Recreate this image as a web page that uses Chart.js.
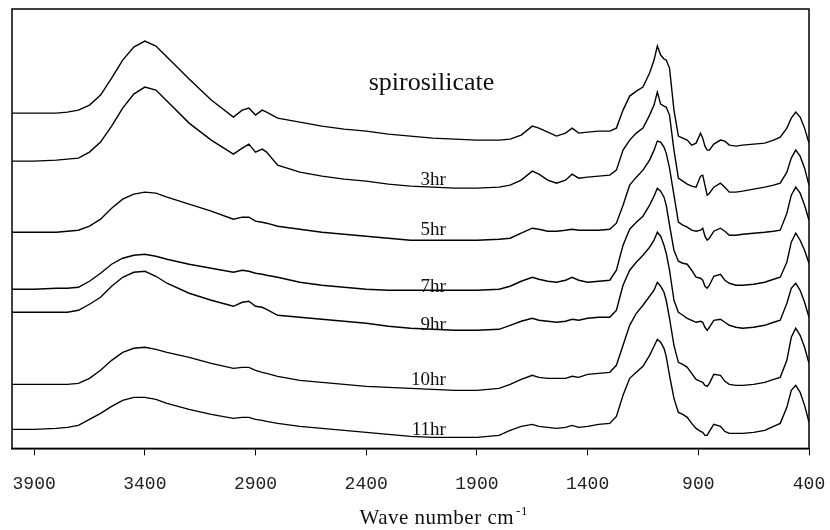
<!DOCTYPE html>
<html>
<head>
<meta charset="utf-8">
<script src="https://cdn.jsdelivr.net/npm/chart.js@4.4.0/dist/chart.umd.min.js"></script>
<style>
  body { margin: 0; background: #fff; }
</style>
</head>
<body>
<canvas id="chart1" width="830" height="530"></canvas>
<script>
const waveNumbers = [
  4000, 3900, 3800, 3750, 3700, 3650, 3600, 3550, 3500, 3450, 3400, 3350, 3300, 3200, 3100, 3000,
  2960, 2930, 2900, 2870, 2850, 2800, 2700, 2600, 2500, 2400, 2300, 2200, 2100, 2000, 1900, 1800,
  1750, 1700, 1650, 1620, 1580, 1540, 1500, 1470, 1440, 1400, 1350, 1300, 1270, 1240, 1210, 1180,
  1150, 1120, 1100, 1085, 1070, 1055, 1045, 1030, 1010, 990, 970, 950, 930, 910, 890, 880,
  870, 860, 850, 830, 800, 780, 760, 730, 700, 650, 600, 560, 530, 500, 480, 460, 440, 420, 400,
];

// stacked (offset) spectra, arbitrary units
const spiroValues = [
  335, 335, 335, 336, 338, 343, 353, 370, 388, 401, 407, 402, 391, 369, 348, 331,
  338, 340, 333, 338, 336, 330, 326, 322, 319, 317, 314, 312, 310, 309, 308, 308,
  309, 313, 322, 320, 316, 312, 315, 320, 315, 316, 317, 317, 320, 338, 352, 357,
  361, 375, 388, 402, 393, 389, 388, 380, 338, 312, 310, 308, 303, 305, 315, 310,
  302, 298, 298, 304, 308, 307, 303, 302, 303, 304, 305, 308, 311, 320, 330, 336, 331, 320, 305,
];
const hr3Values = [
  287, 287, 288, 289, 290, 296, 306, 322, 340, 354, 361, 358, 347, 325, 308, 294,
  300, 304, 296, 299, 296, 283, 276, 272, 269, 267, 264, 262, 261, 260, 260, 261,
  263, 268, 277, 274, 268, 265, 268, 274, 270, 271, 272, 273, 278, 298, 308, 315,
  320, 333, 343, 356, 344, 342, 341, 333, 298, 270, 267, 264, 262, 261, 272, 273,
  263, 253, 255, 261, 265, 261, 256, 256, 257, 259, 261, 263, 265, 276, 290, 298, 292, 280, 263,
];
const hr5Values = [
  216, 216, 216, 217, 218, 222, 229, 240, 249, 254, 256, 255, 251, 244, 237, 229,
  231, 231, 227, 226, 225, 222, 219, 216, 214, 212, 210, 208, 208, 208, 208, 209,
  210, 215, 220, 219, 217, 217, 218, 219, 218, 218, 218, 219, 225, 243, 263, 271,
  278, 288, 298, 307, 306, 301, 295, 280, 253, 226, 223, 221, 218, 217, 218, 220,
  212, 208, 210, 217, 220, 217, 213, 213, 214, 215, 216, 217, 218, 235, 253, 261, 255, 243, 228,
];
const hr7Values = [
  159, 159, 160, 160, 161, 167, 175, 184, 190, 193, 194, 192, 189, 184, 180, 176,
  178, 177, 175, 174, 173, 171, 166, 163, 161, 159, 158, 158, 158, 158, 158, 159,
  162, 167, 171, 169, 167, 166, 168, 171, 168, 166, 167, 168, 178, 203, 219, 226,
  232, 243, 252, 260, 257, 251, 243, 223, 198, 187, 185, 184, 178, 171, 170, 168,
  162, 160, 163, 172, 174, 168, 165, 163, 163, 164, 166, 169, 171, 186, 206, 215, 208, 198, 185,
];
const hr9Values = [
  136, 136, 136, 136, 138, 144, 151, 162, 171, 176, 177, 172, 165, 155, 148, 142,
  146, 147, 142, 141, 139, 133, 131, 129, 127, 125, 122, 120, 119, 118, 118, 119,
  123, 127, 130, 128, 127, 126, 127, 129, 128, 130, 131, 131, 138, 163, 178, 186,
  193, 201, 208, 216, 212, 203, 195, 178, 148, 136, 133, 130, 128, 126, 127, 126,
  121, 118, 121, 128, 129, 126, 123, 121, 120, 121, 123, 126, 128, 145, 160, 165, 158, 146, 131,
];
const hr10Values = [
  64, 64, 64, 64, 65, 70, 78, 88, 96, 100, 101, 99, 96, 91, 85, 80,
  81, 81, 78, 76, 75, 72, 68, 66, 64, 62, 61, 60, 59, 58, 58, 60,
  64, 69, 73, 71, 70, 70, 70, 72, 71, 74, 75, 76, 83, 103, 123, 135,
  143, 152, 158, 166, 162, 156, 148, 130, 103, 86, 84, 81, 75, 69, 67, 66,
  63, 62, 65, 74, 73, 67, 64, 63, 63, 64, 66, 69, 71, 88, 111, 120, 113, 101, 85,
];
const hr11Values = [
  19, 19, 20, 21, 23, 29, 35, 42, 48, 51, 51, 49, 45, 39, 34, 30,
  31, 31, 29, 28, 27, 25, 22, 20, 18, 16, 14, 12, 11, 11, 11, 13,
  18, 22, 24, 22, 21, 20, 21, 23, 21, 22, 24, 25, 32, 53, 70, 76,
  82, 93, 102, 109, 106, 100, 92, 73, 50, 36, 34, 31, 25, 20, 17, 16,
  13, 13, 17, 24, 22, 17, 15, 15, 15, 16, 18, 22, 25, 41, 58, 63, 56, 43, 26,
];

const seriesNames = ["spirosilicate", "3hr", "5hr", "7hr", "9hr", "10hr", "11hr"];
const seriesValues = [spiroValues, hr3Values, hr5Values, hr7Values, hr9Values, hr10Values, hr11Values];
const tickValues = [3900, 3400, 2900, 2400, 1900, 1400, 900, 400];
const axisTitle = "Wave number cm";
const axisTitleSup = "-1";

// where each curve name is written, in data units (x = wave number, y = offset)
const labelAnchors = [
  { x: 2105, y: 358, size: 26, align: "center" },
  { x: 2040, y: 263, size: 19, align: "right" },
  { x: 2040, y: 213, size: 19, align: "right" },
  { x: 2040, y: 156, size: 19, align: "right" },
  { x: 2040, y: 118, size: 19, align: "right" },
  { x: 2040, y: 63, size: 19, align: "right" },
  { x: 2040, y: 13, size: 19, align: "right" },
];

const serif = "'Liberation Serif', 'Times New Roman', serif";

const datasets = seriesValues.map((vals, i) => ({
  label: seriesNames[i],
  data: vals.map((v, j) => ({ x: waveNumbers[j], y: v })),
  borderColor: "#000",
  borderWidth: 1.4,
  pointRadius: 0,
  tension: 0,
  fill: false,
}));

const frameAndLabels = {
  id: "frameAndLabels",
  afterDatasetsDraw(chart) {
    const ctx = chart.ctx;
    const a = chart.chartArea;
    const xs = chart.scales.x;
    const ys = chart.scales.y;
    ctx.save();
    ctx.strokeStyle = "#000";
    ctx.lineWidth = 1.5;
    ctx.strokeRect(a.left, a.top, a.right - a.left, a.bottom - a.top);
    ctx.fillStyle = "#111";
    ctx.textBaseline = "alphabetic";
    labelAnchors.forEach((lab, i) => {
      ctx.font = lab.size + "px " + serif;
      ctx.textAlign = lab.align;
      ctx.fillText(seriesNames[i], xs.getPixelForValue(lab.x), ys.getPixelForValue(lab.y));
    });

    // axis title with superscript, centred under 2050 cm-1
    ctx.font = "21px " + serif;
    ctx.letterSpacing = "0.5px";
    const w1 = ctx.measureText(axisTitle).width;
    ctx.font = "13px " + serif;
    const w2 = ctx.measureText(axisTitleSup).width;
    const x0 = xs.getPixelForValue(2050) - (w1 + 2 + w2) / 2;
    const yb = a.bottom + 76;
    ctx.textAlign = "left";
    ctx.font = "21px " + serif;
    ctx.fillText(axisTitle, x0, yb);
    ctx.font = "13px " + serif;
    ctx.fillText(axisTitleSup, x0 + w1 + 2, yb - 9);
    ctx.restore();
  },
};

const irChart = new Chart(document.getElementById("chart1").getContext("2d"), {
  type: "line",
  data: { datasets: datasets },
  plugins: [frameAndLabels],
  options: {
    responsive: false,
    animation: false,
    devicePixelRatio: 1,
    layout: { padding: { left: 12, top: 9, right: 21, bottom: 17 } },
    plugins: { legend: { display: false }, tooltip: { enabled: false } },
    scales: {
      x: {
        type: "linear",
        reverse: true,
        min: 400,
        max: 4000,
        afterBuildTicks: (scale) => {
          scale.ticks = tickValues.map((v) => ({ value: v }));
        },
        // the frame edges are fixed by the layout padding, not by the label widths
        afterFit: (scale) => {
          scale.paddingLeft = 0;
          scale.paddingRight = 0;
        },
        ticks: {
          color: "#222",
          padding: 18,
          maxRotation: 0,
          font: { family: "'Liberation Mono', monospace", size: 18 },
          callback: (v) => String(v),
        },
        grid: { drawOnChartArea: false, drawTicks: true, tickLength: 7, color: "#000", lineWidth: 1 },
        border: { display: true, color: "#000", width: 1.5 },
        title: { display: false },
      },
      y: { display: false, min: 0, max: 439 },
    },
  },
});
</script>
</body>
</html>
